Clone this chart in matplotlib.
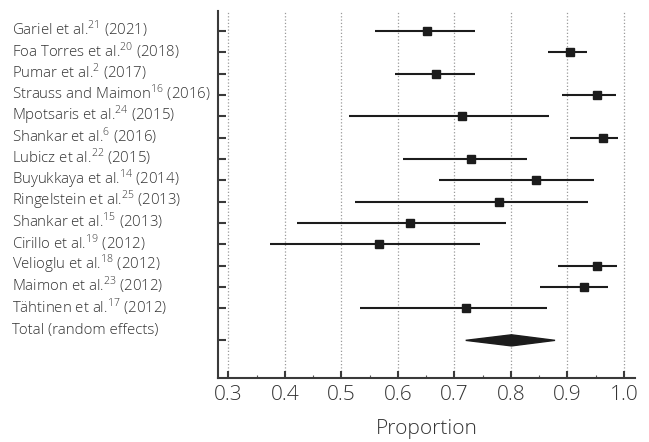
import matplotlib
matplotlib.use("Agg")
import matplotlib.pyplot as plt
from matplotlib import font_manager
from matplotlib.transforms import blended_transform_factory
from matplotlib.patches import Polygon

# pick a family that has a light weight installed
family = "Open Sans"
for name in ["Open Sans", "Lato", "Roboto", "Noto Sans", "Inter"]:
    ws = [f.weight for f in font_manager.fontManager.ttflist if f.name == name]
    if any(w in (300, "light", 200, "extra light") for w in ws):
        family = name
        break

plt.rcParams["font.family"] = [family, "DejaVu Sans"]
plt.rcParams["mathtext.fontset"] = "custom"
plt.rcParams["mathtext.rm"] = family + ":light"

studies = [
    "Gariel et al.$^{21}$ (2021)",
    "Foa Torres et al.$^{20}$ (2018)",
    "Pumar et al.$^{2}$ (2017)",
    "Strauss and Maimon$^{16}$ (2016)",
    "Mpotsaris et al.$^{24}$ (2015)",
    "Shankar et al.$^{6}$ (2016)",
    "Lubicz et al.$^{22}$ (2015)",
    "Buyukkaya et al.$^{14}$ (2014)",
    "Ringelstein et al.$^{25}$ (2013)",
    "Shankar et al.$^{15}$ (2013)",
    "Cirillo et al.$^{19}$ (2012)",
    "Velioglu et al.$^{18}$ (2012)",
    "Maimon et al.$^{23}$ (2012)",
    "Tähtinen et al.$^{17}$ (2012)",
]
proportion = [0.652, 0.905, 0.668, 0.953, 0.714, 0.962, 0.730,
              0.845, 0.778, 0.622, 0.567, 0.953, 0.929, 0.720]
ci_low = [0.559, 0.865, 0.594, 0.890, 0.513, 0.905, 0.609,
          0.673, 0.524, 0.422, 0.374, 0.884, 0.852, 0.533]
ci_high = [0.737, 0.935, 0.736, 0.985, 0.868, 0.990, 0.829,
           0.947, 0.936, 0.792, 0.746, 0.987, 0.972, 0.863]

total_label = "Total (random effects)"
total_est = 0.801
total_low = 0.720
total_high = 0.878

xticks = [0.3, 0.4, 0.5, 0.6, 0.7, 0.8, 0.9, 1.0]

fig = plt.figure(figsize=(6.49, 4.42), dpi=100)
ax = fig.add_axes([0.3364, 0.1455, 0.6416, 0.8296])

rows = list(range(len(studies)))
total_row = len(studies) + 0.5

ink = "#1c1c1c"
for r, p, lo, hi in zip(rows, proportion, ci_low, ci_high):
    ax.plot([lo, hi], [r, r], color=ink, lw=1.5, solid_capstyle="butt", zorder=3)
ax.plot(proportion, rows, "s", color=ink, ms=5.5, zorder=4, linestyle="none")

diamond = Polygon([[total_low, total_row], [total_est, total_row - 0.26],
                   [total_high, total_row], [total_est, total_row + 0.26]],
                  closed=True, color=ink, zorder=4)
ax.add_patch(diamond)

ax.set_xlim(0.2823, 1.019)
ax.set_ylim(16.25, -0.94)
ax.set_xticks(xticks)
ax.set_xticklabels(["%.1f" % t for t in xticks])
ax.set_xticks([t + 0.05 for t in xticks[:-1]], minor=True)
ax.set_yticks(rows + [total_row])
ax.set_yticklabels([])
ax.grid(axis="x", which="major", color="#9a9a9a", linestyle=":", lw=0.9, zorder=0)

for side in ["top", "right"]:
    ax.spines[side].set_visible(False)
for side in ["left", "bottom"]:
    ax.spines[side].set_color("#3a3a3a")
    ax.spines[side].set_linewidth(1.5)

ax.tick_params(axis="y", direction="in", length=6, width=1.5, color="#3a3a3a")
ax.tick_params(axis="x", which="major", direction="in", length=5, width=1.5,
               color="#3a3a3a", labelsize=15, labelcolor="#333333", pad=5)
ax.tick_params(axis="x", which="minor", direction="in", length=2.5, width=0.8,
               color="#555555")
for lab in ax.get_xticklabels():
    lab.set_fontweight("light")

ax.set_xlabel("Proportion", fontsize=15, color="#333333", labelpad=10,
              fontweight="light")

trans = blended_transform_factory(fig.transFigure, ax.transData)
for r, name in zip(rows, studies):
    ax.text(0.0185, r - 0.1, name, transform=trans, ha="left", va="center",
            fontsize=10.8, color="#333333", fontweight="light")
ax.text(0.0185, total_row - 0.45, total_label, transform=trans, ha="left",
        va="center", fontsize=10.8, color="#333333", fontweight="light")

fig.savefig("out.png", dpi=100)
